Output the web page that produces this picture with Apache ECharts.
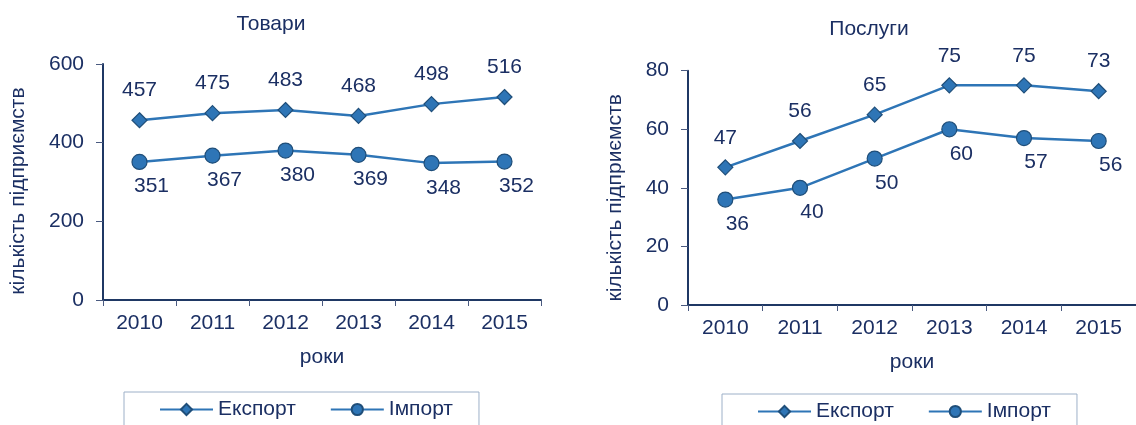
<!DOCTYPE html>
<html>
<head>
<meta charset="utf-8">
<script src="https://cdn.jsdelivr.net/npm/echarts@6/dist/echarts.min.js"></script>
<style>
html,body{margin:0;padding:0;background:#fff;}
#c{width:1136px;height:425px;}
</style>
</head>
<body>
<div id="c"></div>
<script>
const years = ['2010', '2011', '2012', '2013', '2014', '2015'];
const goodsExport = [457, 475, 483, 468, 498, 516];
const goodsImport = [351, 367, 380, 369, 348, 352];
const servicesExport = [47, 56, 65, 75, 75, 73];
const servicesImport = [36, 40, 50, 60, 57, 56];
const titles = ['Товари', 'Послуги'];
const seriesNames = ['Експорт', 'Імпорт'];
const yName = 'кількість підприємств';
const xName = 'роки';

const FONT = '"Liberation Sans", Arial, sans-serif';
const FS = 21;
const TXT = '#1B2F63';
const LINE = '#2E75B6';
const EDGE = '#1F4E79';
const AX = '#1F3864';

function xAxis(gi) {
  return {
    type: 'category', gridIndex: gi, data: years, boundaryGap: true,
    name: xName, nameLocation: 'middle', nameGap: 47,
    nameTextStyle: {fontFamily: FONT, fontSize: FS, color: TXT},
    axisLine: {lineStyle: {color: AX, width: 2}},
    axisTick: {show: true, interval: 0, length: 6, lineStyle: {color: '#4A5A80', width: 1}},
    axisLabel: {fontFamily: FONT, fontSize: FS, color: TXT, margin: 13, interval: 0},
    splitLine: {show: false}
  };
}
function yAxis(gi, max, interval, gap, pad) {
  return {
    type: 'value', gridIndex: gi, min: 0, max: max, interval: interval,
    name: yName, nameLocation: 'middle', nameGap: gap, nameRotate: 90,
    nameTextStyle: {fontFamily: FONT, fontSize: FS, color: TXT, padding: pad},
    axisLine: {show: true, lineStyle: {color: AX, width: 2}},
    axisTick: {show: true, length: 7, lineStyle: {color: '#4A5A80', width: 1}},
    axisLabel: {fontFamily: FONT, fontSize: FS, color: TXT, margin: 19},
    splitLine: {show: false}
  };
}
function exp(gi, data) {
  return {
    name: seriesNames[0], type: 'line', xAxisIndex: gi, yAxisIndex: gi, data: data,
    symbol: 'diamond', symbolSize: 15,
    lineStyle: {color: LINE, width: 2.5},
    itemStyle: {color: LINE, borderColor: EDGE, borderWidth: 1.2},
    label: {show: true, position: 'top', distance: 11, fontFamily: FONT, fontSize: FS, color: TXT},
    emphasis: {disabled: true}, animation: false
  };
}
function imp(gi, data) {
  return {
    name: seriesNames[1], type: 'line', xAxisIndex: gi, yAxisIndex: gi, data: data,
    symbol: 'circle', symbolSize: 15,
    lineStyle: {color: LINE, width: 2.5},
    itemStyle: {color: LINE, borderColor: EDGE, borderWidth: 1.2},
    label: {show: true, position: 'bottom', distance: 6, offset: [12, 0], fontFamily: FONT, fontSize: FS, color: TXT},
    emphasis: {disabled: true}, animation: false
  };
}
function legend(left, top) {
  return {
    left: left, top: top, orient: 'horizontal',
    data: seriesNames, itemWidth: 53, itemHeight: 14, itemGap: 34,
    padding: [7, 26, 24, 35],
    borderColor: '#9DB0C8', borderWidth: 1,
    textStyle: {fontFamily: FONT, fontSize: FS, color: TXT},
    selectedMode: false
  };
}

const chart = echarts.init(document.getElementById('c'), null, {renderer: 'canvas'});
chart.setOption({
  backgroundColor: '#fff',
  animation: false,
  title: [
    {text: titles[0], left: 266, top: 9, textAlign: 'center', textStyle: {fontFamily: FONT, fontSize: FS, fontWeight: 'normal', color: TXT}},
    {text: titles[1], left: 864, top: 14, textAlign: 'center', textStyle: {fontFamily: FONT, fontSize: FS, fontWeight: 'normal', color: TXT}}
  ],
  grid: [
    {left: 103, top: 64, width: 438, height: 236},
    {left: 688, top: 70.7, width: 453, height: 234.3}
  ],
  xAxis: [xAxis(0), xAxis(1)],
  yAxis: [yAxis(0, 600, 200, 74, [0, 18, 0, 0]), yAxis(1, 80, 20, 62, [0, 20, 0, 0])],
  legend: [legend(124, 392), legend(722, 394)],
  series: [exp(0, goodsExport), imp(0, goodsImport), exp(1, servicesExport), imp(1, servicesImport)]
});
</script>
</body>
</html>
